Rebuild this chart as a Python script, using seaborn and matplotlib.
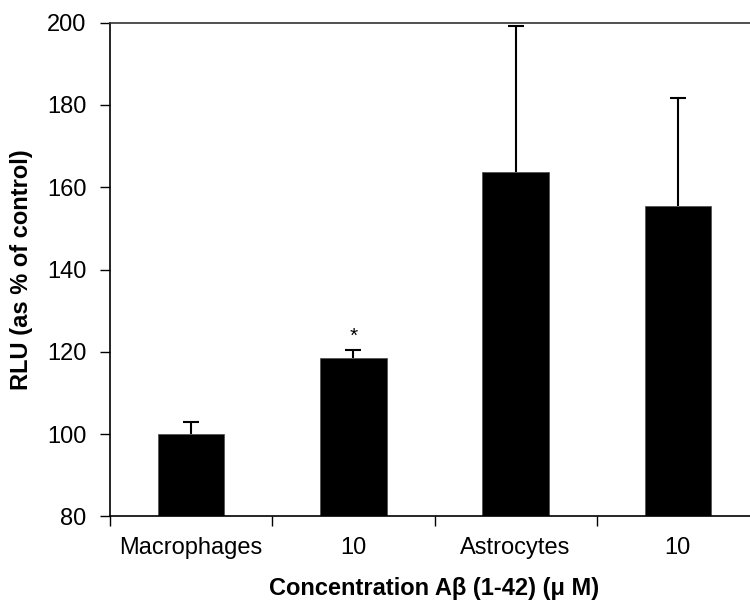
import matplotlib
matplotlib.use("Agg")
import matplotlib.pyplot as plt
import seaborn as sns
import pandas as pd
import numpy as np

# Luciferase activity relative to untreated control
groups = ["mac_ctrl", "mac_ab10", "ast_ctrl", "ast_ab10"]
tick_labels = ["Macrophages", "10", "Astrocytes", "10"]
rlu_mean = [100.0, 118.5, 163.7, 155.4]
rlu_sem = [2.9, 1.9, 35.5, 26.2]
significant = [False, True, False, False]

sns.set_theme(style="white")
plt.rcParams["font.family"] = ["Liberation Sans", "DejaVu Sans"]
plt.rcParams.update({"text.color": "black", "axes.labelcolor": "black",
                     "xtick.color": "black", "ytick.color": "black"})

df = pd.DataFrame({"group": groups, "rlu": rlu_mean})

fig = plt.figure(figsize=(7.5, 6.1), dpi=100)
ax = fig.add_axes([110 / 750, (610 - 516.3) / 610, (759 - 110) / 750, (516.3 - 22.7) / 610])

sns.barplot(data=df, x="group", y="rlu", order=groups, color="black",
            width=0.41, edgecolor="#555555", linewidth=0.6, errorbar=None, ax=ax,
            saturation=1)

# upper-only error bars (SEM)
xpos = np.arange(len(groups))
_, caps, _ = ax.errorbar(xpos, rlu_mean, yerr=[np.zeros(len(groups)), rlu_sem],
                         fmt="none", ecolor="black", elinewidth=1.5, capsize=5.8,
                         capthick=1.5, zorder=1)
caps[0].set_visible(False)

for x, m, s, sig in zip(xpos, rlu_mean, rlu_sem, significant):
    if sig:
        ax.text(x, m + s + 1.0, "*", ha="center", va="bottom", fontsize=15, color="black")

ax.set_ylim(80, 200)
ax.set_xlim(-0.5, 3.5)
ax.set_yticks([80, 100, 120, 140, 160, 180, 200])
ax.tick_params(axis="y", which="major", direction="out", length=7, width=1,
               color="black", labelsize=17, pad=10, left=True)

# group boundaries carry the tick marks, labels sit under the bars
ax.set_xticks([-0.5, 0.5, 1.5, 2.5])
ax.set_xticklabels([])
ax.set_xticks(xpos, minor=True)
ax.set_xticklabels(tick_labels, minor=True)
ax.tick_params(axis="x", which="major", direction="out", length=7, width=1,
               color="black", bottom=True)
ax.tick_params(axis="x", which="minor", length=0, labelsize=17, pad=15)

for side in ["left", "bottom", "top"]:
    ax.spines[side].set_visible(True)
    ax.spines[side].set_color("black")
    ax.spines[side].set_linewidth(1.2)
ax.spines["top"].set_color("#333333")
ax.spines["right"].set_visible(False)

ax.set_xlabel("Concentration A\u03b2 (1-42) (\u03bc M)", fontsize=17, fontweight="bold",
              labelpad=13)
ax.set_ylabel("RLU (as % of control)", fontsize=17, fontweight="bold", labelpad=10)

fig.savefig("out.png", dpi=100)
